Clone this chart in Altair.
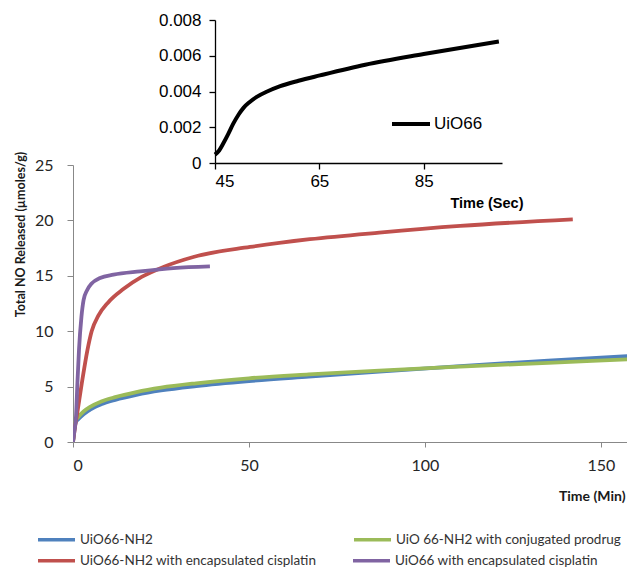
import altair as alt
import pandas as pd

# ---------------- data ----------------
series_names = [
    "UiO66-NH2",
    "UiO 66-NH2 with conjugated prodrug",
    "UiO66-NH2 with encapsulated cisplatin",
    "UiO66 with encapsulated cisplatin",
]
series_colors = ["#4F81BD", "#9BBB59", "#C0504D", "#8064A2"]

blue_t = [0, 0.3, 0.8, 1.5, 3, 5, 8, 12, 18, 25, 35, 50, 67, 87, 110, 135, 160]
blue_v = [0, 0.9, 1.8, 2.05, 2.5, 2.95, 3.4, 3.8, 4.25, 4.65, 5.05, 5.5, 5.9, 6.35, 6.85, 7.35, 7.8]

green_t = [0, 0.3, 0.8, 1.5, 3, 5, 8, 12, 18, 25, 35, 50, 67, 87, 110, 135, 160]
green_v = [0, 1.0, 1.95, 2.25, 2.75, 3.2, 3.65, 4.05, 4.5, 4.9, 5.3, 5.75, 6.1, 6.45, 6.8, 7.15, 7.5]

red_t = [0, 0.5, 1.2, 2.5, 4.1, 5.3, 7.2, 10, 14.3, 19.5, 25.7, 34.2, 50.3, 67.3, 87, 110, 142]
red_v = [0, 1.2, 2.6, 5.3, 8.3, 10.0, 11.4, 12.6, 13.8, 14.9, 15.8, 16.7, 17.6, 18.3, 18.9, 19.5, 20.1]

purple_t = [0, 0.4, 0.85, 1.25, 1.7, 2.4, 3.0, 4.0, 5.3, 7.7, 11.5, 19.1, 28.5, 38.9]
purple_v = [0, 1.0, 2.3, 5.3, 8.3, 11.3, 12.8, 13.7, 14.3, 14.8, 15.1, 15.4, 15.7, 15.85]

inset_name = "UiO66"
inset_t = [45, 45.8, 46.6, 47.5, 48.5, 49.5, 50.5, 51.6, 53, 55, 57.5, 61, 65.1, 73.8, 85, 99.4]
inset_v = [0.00047, 0.0007, 0.0011, 0.0016, 0.0022, 0.0027, 0.0031, 0.0034, 0.0037,
           0.0040, 0.0043, 0.0046, 0.0049, 0.0055, 0.0061, 0.0068]

main_x_ticks = [0, 50, 100, 150]
main_y_ticks = [0, 5, 10, 15, 20, 25]
inset_x_ticks = [45, 65, 85]
inset_y_ticks = [0, 0.002, 0.004, 0.006, 0.008]

# ---------------- tables ----------------
def long_table(names, t_lists, v_lists):
    rows = []
    for name, ts, vs in zip(names, t_lists, v_lists):
        for i, (t, v) in enumerate(zip(ts, vs)):
            rows.append({"series": name, "t": t, "v": v, "i": i})
    return pd.DataFrame(rows)

df_a = long_table(series_names[:2], [blue_t, green_t], [blue_v, green_v])
df_b = long_table(series_names[2:], [red_t, purple_t], [red_v, purple_v])
df_inset = pd.DataFrame({"series": inset_name, "t": inset_t, "v": inset_v})

SANS = "Lato"
ARIAL = "Liberation Sans"
X_DOMAIN = [0, 157.4]
Y_DOMAIN = [0, 25]


def legend_row(y, col_pad):
    return alt.Legend(orient="none", legendX=-37, legendY=y, title=None,
                      columns=2, direction="horizontal",
                      symbolType="stroke", symbolSize=1369, symbolStrokeWidth=3.5,
                      labelOffset=3, labelFont=SANS, labelFontSize=13.5,
                      labelColor="#333333", labelLimit=400, columnPadding=col_pad)


main_a = alt.Chart(df_a).mark_line(strokeWidth=3.8, interpolate="monotone", clip=True).encode(
    x=alt.X("t:Q",
            scale=alt.Scale(domain=X_DOMAIN, nice=False),
            axis=alt.Axis(values=main_x_ticks, grid=False, title="Time (Min)",
                          domainColor="#888888", tickColor="#888888", tickSize=5,
                          labelFont=SANS, labelFontSize=16, labelColor="#262626",
                          labelPadding=10,
                          titleFont=SANS, titleFontSize=14, titleFontWeight="bold",
                          titleColor="#1a1a1a", titleAnchor="end", titleAlign="right",
                          titleBaseline="middle", titleX=552, titleY=54)),
    y=alt.Y("v:Q",
            scale=alt.Scale(domain=Y_DOMAIN, nice=False),
            axis=alt.Axis(values=main_y_ticks, grid=False,
                          title="Total NO Released (µmoles/g)",
                          domainColor="#888888", tickColor="#888888", tickSize=6,
                          labelFont=SANS, labelFontSize=16, labelColor="#262626",
                          labelPadding=14,
                          titleFont=SANS, titleFontSize=12.5, titleFontWeight="bold",
                          titleColor="#1a1a1a", titleAngle=270, titleAlign="center",
                          titleBaseline="middle", titleX=-53, titleY=69)),
    color=alt.Color("series:N",
                    scale=alt.Scale(domain=series_names[:2], range=series_colors[:2]),
                    legend=legend_row(354, 194)),
    order="i:Q",
)

main_b = alt.Chart(df_b).mark_line(strokeWidth=3.8, interpolate="monotone", clip=True).encode(
    x=alt.X("t:Q", scale=alt.Scale(domain=X_DOMAIN, nice=False), axis=None),
    y=alt.Y("v:Q", scale=alt.Scale(domain=Y_DOMAIN, nice=False), axis=None),
    color=alt.Color("series:N",
                    scale=alt.Scale(domain=series_names[2:], range=series_colors[2:]),
                    legend=legend_row(375, 29)),
    order="i:Q",
)

inset = alt.Chart(df_inset).mark_line(strokeWidth=4, interpolate="monotone").encode(
    x=alt.X("t:Q",
            scale=alt.Scale(domain=[45, 100], range=[142, 429], nice=False),
            axis=alt.Axis(orient="bottom", offset=-279, values=inset_x_ticks, grid=False,
                          title="Time (Sec)", domainColor="black", tickColor="black",
                          domainWidth=1.3, tickWidth=1.3, tickSize=6,
                          labelFont=ARIAL, labelFontSize=17, labelColor="black",
                          labelPadding=4,
                          titleFont=ARIAL, titleFontSize=14.5, titleFontWeight="bold",
                          titleColor="black", titleAnchor="end", titleAlign="right",
                          titleBaseline="middle", titleX=450, titleY=40)),
    y=alt.Y("v:Q",
            scale=alt.Scale(domain=[0, 0.008], range=[-2, -145], nice=False),
            axis=alt.Axis(orient="left", offset=-142, values=inset_y_ticks, grid=False,
                          title=None, domainColor="black", tickColor="black",
                          domainWidth=1.3, tickWidth=1.3, tickSize=6,
                          labelExpr="datum.value == 0 ? '0' : format(datum.value, '.3f')",
                          labelFont=ARIAL, labelFontSize=17, labelColor="black",
                          labelPadding=8)),
    color=alt.Color("series:N",
                    scale=alt.Scale(domain=[inset_name], range=["black"]),
                    legend=alt.Legend(orient="none", legendX=317, legendY=-62,
                                      title=None, symbolType="stroke", symbolSize=1444,
                                      symbolStrokeWidth=4, labelOffset=2,
                                      labelFont=ARIAL, labelFontSize=17,
                                      labelColor="black")),
)

chart = alt.layer(main_a, main_b, inset).resolve_scale(
    x="independent", y="independent", color="independent"
).properties(
    width=554, height=277,
    autosize=alt.AutoSizeParams(type="none"),
    padding={"left": 65, "top": 157, "right": 0, "bottom": 126},
).configure_view(stroke=None)

chart.save("out.html", embed_options={"renderer": "svg", "actions": False})
